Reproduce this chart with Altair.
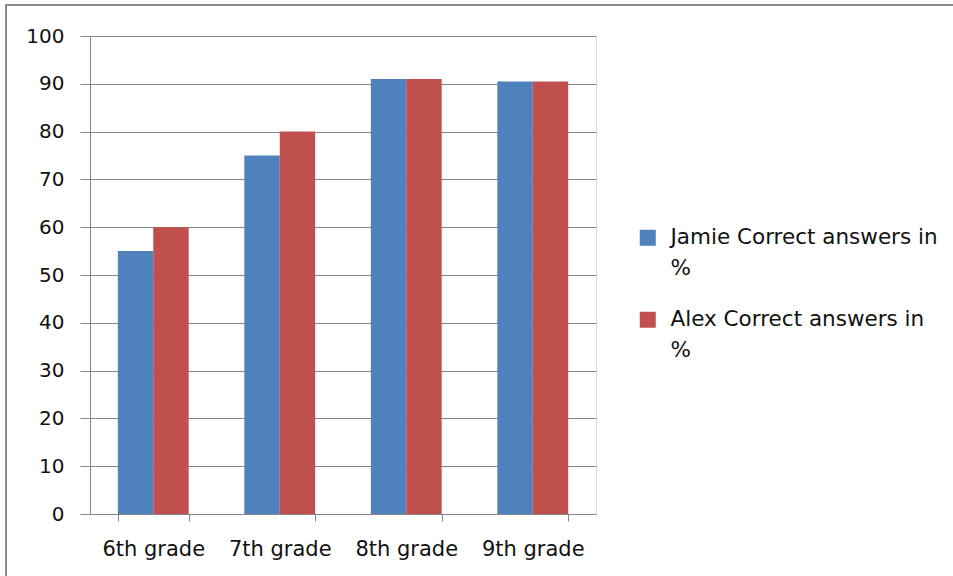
import altair as alt
import pandas as pd

grades = ["6th grade", "7th grade", "8th grade", "9th grade"]
series = ["Jamie Correct answers in %", "Alex  Correct answers in %"]
jamie = [55, 75, 91, 90.5]
alex = [60, 80, 91, 90.5]
colors = ["#4F81BD", "#C0504D"]

rows = []
for g, j, a in zip(grades, jamie, alex):
    rows.append({"grade": g, "series": series[0], "value": j})
    rows.append({"grade": g, "series": series[1], "value": a})
df = pd.DataFrame(rows)

FONT = "DejaVu Sans"
GRID = "#868686"

bars = alt.Chart(df).mark_bar(clip=False).encode(
    x=alt.X("grade:N", sort=grades, title=None,
            scale=alt.Scale(paddingInner=0.44, paddingOuter=0.22),
            axis=alt.Axis(labelAngle=0, tickBand="extent", tickSize=7,
                          tickColor=GRID, domainColor=GRID, labelFontSize=21,
                          labelFont=FONT, labelColor="#111", labelPadding=17,
                          grid=False)),
    xOffset=alt.XOffset("series:N", sort=series),
    y=alt.Y("value:Q", title=None,
            scale=alt.Scale(domain=[0, 100], nice=False),
            axis=alt.Axis(values=list(range(0, 101, 10)), tickSize=10,
                          tickColor=GRID, domainColor=GRID, gridColor=GRID,
                          grid=True, labelFontSize=20, labelFont=FONT,
                          labelColor="#111", labelPadding=16)),
    color=alt.Color("series:N", sort=series,
                    scale=alt.Scale(domain=series, range=colors),
                    legend=alt.Legend(
                        title=None, orient="none", legendX=547, legendY=191,
                        symbolType="square", symbolSize=256,
                        symbolStrokeWidth=0, labelFontSize=21.5, labelFont=FONT,
                        labelColor="#111", labelLimit=400, labelOffset=12,
                        rowPadding=28,
                        labelExpr="[replace(datum.label, ' %', ''), '%']")),
)

border = alt.Chart(alt.Data(values=[{}])).mark_rect(
    fill=None, stroke="#8c8c8c", strokeWidth=2, clip=False
).encode(
    x=alt.value(-84), x2=alt.value(900),
    y=alt.value(-31), y2=alt.value(580),
)

chart = alt.layer(border, bars).properties(
    width=506, height=478,
    autosize=alt.AutoSizeParams(type="none"),
    padding={"left": 90, "top": 36, "right": 357, "bottom": 62},
    background="white",
).configure_view(stroke=None).configure(
    style={"guide-label": {"lineHeight": 31}}
)

chart.save("out.html", embed_options={"renderer": "svg", "actions": False})
